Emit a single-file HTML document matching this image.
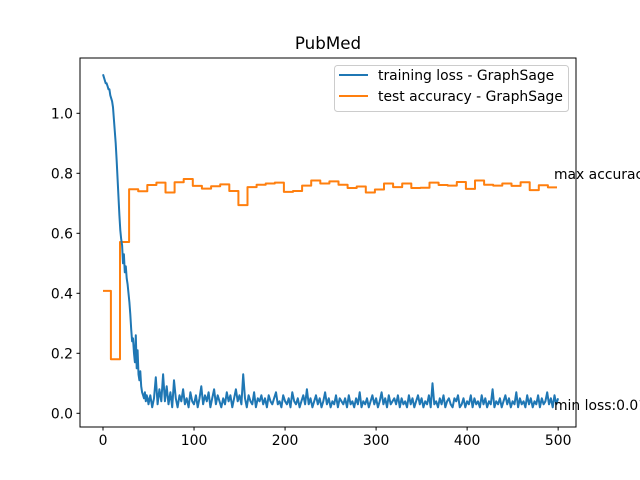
<!DOCTYPE html>
<html><head><meta charset="utf-8"><style>
body{margin:0;background:#fff;}
svg{display:block;font-family:"DejaVu Sans","Liberation Sans",sans-serif;}
</style></head><body>
<svg id="chart" width="640" height="480" viewBox="0 0 640 480" xmlns="http://www.w3.org/2000/svg">
<rect width="640" height="480" fill="#fff"/>
<text x="328" y="49" font-size="16.7" text-anchor="middle">PubMed</text>
<g id="ticks"></g>
<g id="series"></g>
<rect x="80" y="58" width="496" height="369" fill="none" stroke="#000" stroke-width="1"/>
<text x="554" y="179" font-size="13.9">max accuracy:0.781</text>
<text x="554" y="410" font-size="13.9">min loss:0.012</text>
<g>
<rect x="334.5" y="65.5" width="234" height="46" rx="3" fill="#fff" fill-opacity="0.8" stroke="#ccc"/>
<line x1="339" y1="75" x2="368" y2="75" stroke="#1f77b4" stroke-width="2"/>
<text x="378" y="80" font-size="13.9">training loss - GraphSage</text>
<line x1="339" y1="96" x2="368" y2="96" stroke="#ff7f0e" stroke-width="2"/>
<text x="378" y="101" font-size="13.9">test accuracy - GraphSage</text>
</g>
</svg>
<script>
const xTicks=[0,100,200,300,400,500];
const yTicks=[0.0,0.2,0.4,0.6,0.8,1.0];
const yTickLabels=["0.0","0.2","0.4","0.6","0.8","1.0"];
const accBucketSize=10;
const accValues=[0.408,0.18,0.571,0.747,0.74,0.761,0.769,0.736,0.77,0.781,0.758,0.749,0.757,0.763,0.741,0.694,0.754,0.762,0.766,0.769,0.738,0.741,0.759,0.776,0.766,0.773,0.762,0.751,0.756,0.736,0.746,0.766,0.754,0.766,0.751,0.752,0.769,0.761,0.759,0.771,0.748,0.776,0.762,0.759,0.766,0.758,0.770,0.744,0.760,0.753];
const lossEarly=[1.13,1.12,1.11,1.10,1.10,1.09,1.08,1.08,1.06,1.05,1.04,1.02,0.98,0.94,0.90,0.84,0.78,0.72,0.66,0.61,0.58,0.56,0.50,0.53,0.47,0.49,0.45,0.43,0.40,0.37,0.33,0.28,0.24,0.25,0.20,0.17,0.26,0.15,0.21,0.13,0.11,0.14,0.09,0.07,0.06,0.05,0.07,0.04,0.06,0.05];
const lossLateStep=2;
const lossLate=[0.03,0.06,0.02,0.05,0.12,0.03,0.08,0.04,0.13,0.04,0.09,0.03,0.07,0.02,0.11,0.05,0.02,0.06,0.04,0.08,0.03,0.05,0.02,0.07,0.04,0.03,0.06,0.02,0.05,0.09,0.03,0.06,0.04,0.07,0.02,0.05,0.08,0.03,0.06,0.04,0.02,0.05,0.03,0.07,0.04,0.06,0.02,0.05,0.08,0.04,0.06,0.03,0.13,0.05,0.02,0.06,0.04,0.03,0.07,0.02,0.05,0.04,0.06,0.03,0.05,0.02,0.06,0.04,0.03,0.05,0.07,0.03,0.04,0.02,0.06,0.04,0.03,0.05,0.02,0.07,0.04,0.03,0.05,0.02,0.04,0.06,0.03,0.08,0.03,0.05,0.02,0.04,0.06,0.03,0.05,0.02,0.04,0.07,0.03,0.05,0.02,0.04,0.03,0.06,0.02,0.05,0.04,0.03,0.05,0.02,0.06,0.03,0.04,0.02,0.05,0.03,0.07,0.02,0.04,0.03,0.05,0.02,0.04,0.06,0.03,0.05,0.02,0.04,0.07,0.03,0.05,0.02,0.06,0.03,0.04,0.05,0.03,0.06,0.02,0.05,0.03,0.04,0.02,0.06,0.03,0.05,0.02,0.04,0.06,0.03,0.05,0.02,0.04,0.03,0.06,0.02,0.10,0.03,0.04,0.02,0.05,0.03,0.06,0.02,0.04,0.05,0.03,0.02,0.05,0.04,0.06,0.02,0.03,0.05,0.02,0.04,0.03,0.06,0.02,0.05,0.03,0.04,0.02,0.06,0.03,0.05,0.02,0.04,0.03,0.08,0.02,0.04,0.03,0.05,0.02,0.04,0.06,0.03,0.05,0.02,0.04,0.03,0.07,0.02,0.05,0.03,0.04,0.02,0.06,0.03,0.05,0.02,0.04,0.03,0.06,0.02,0.05,0.03,0.04,0.07,0.03,0.05,0.02,0.06,0.03,0.05];
const NS="http://www.w3.org/2000/svg";
const sx=e=>103+e*0.9103;
const sy=v=>413.3-v*300;
const tg=document.getElementById('ticks');
const sg=document.getElementById('series');
function mk(tag,attrs,parent){const el=document.createElementNS(NS,tag);for(const k in attrs)el.setAttribute(k,attrs[k]);parent.appendChild(el);return el;}
xTicks.forEach(t=>{
  const l=mk('line',{x1:sx(t),x2:sx(t),y1:427,y2:430.5,stroke:'#000'},tg);
  
  
  const tx=mk('text',{x:sx(t),y:445,'font-size':'13.9','text-anchor':'middle'},tg);
  tx.textContent=t;
  
  
});
yTicks.forEach((t,i)=>{
  const l=mk('line',{x1:76.5,x2:80,y1:sy(t),y2:sy(t),stroke:'#000'},tg);
  
  
  const tx=mk('text',{x:73,y:sy(t)+5,'font-size':'13.9','text-anchor':'end'},tg);
  tx.textContent=yTickLabels[i];
  
  
});
let accPts=[];
accValues.forEach((v,i)=>{
  const e0=i===0?0:i*accBucketSize-1.3;
  const e1=(i+1)*accBucketSize-1.3;
  accPts.push(sx(e0).toFixed(1)+','+sy(v).toFixed(1));
  accPts.push(sx(Math.min(e1,499)).toFixed(1)+','+sy(v).toFixed(1));
});
const acc=mk('polyline',{points:accPts.join(' '),fill:'none',stroke:'#ff7f0e','stroke-width':2,'stroke-linejoin':'round'},sg);


let lossPts=[];
lossEarly.forEach((v,i)=>lossPts.push(sx(i).toFixed(1)+','+sy(v).toFixed(1)));
lossLate.forEach((v,i)=>{const e=lossEarly.length+i*lossLateStep;lossPts.push(sx(e).toFixed(1)+','+sy(v).toFixed(1));});
const loss=mk('polyline',{points:lossPts.join(' '),fill:'none',stroke:'#1f77b4','stroke-width':2,'stroke-linejoin':'round'},sg);


</script>
</body></html>
